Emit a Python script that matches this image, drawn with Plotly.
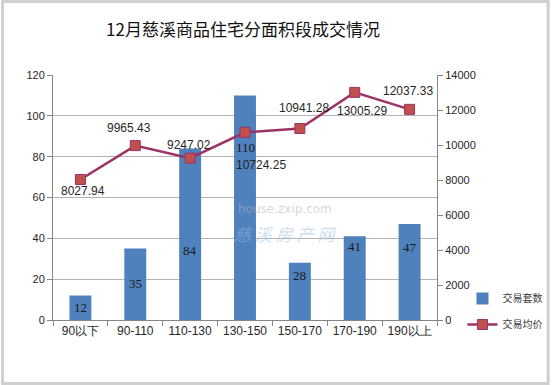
import plotly.graph_objects as go

categories = ["90以下", "90-110", "110-130", "130-150", "150-170", "170-190", "190以上"]
counts = [12, 35, 84, 110, 28, 41, 47]
prices = [8027.94, 9965.43, 9247.02, 10724.25, 10941.28, 13005.29, 12037.33]
left_ticks = [0, 20, 40, 60, 80, 100, 120]
right_ticks = [0, 2000, 4000, 6000, 8000, 10000, 12000, 14000]

# style: where each bar's label sits (data units) and line label offsets (px)
bar_label_y = [5.9, 18.1, 33.8, 84.7, 21.6, 35.8, 35.3]
line_label_off = [(3, 11), (-6, -18), (-1, -13), (16, 33), (4, -21), (7, 19), (-2, -18)]

W, H = 560, 385
ml, mr, mt, mb = 53, 115, 75, 65
pw, ph = W - ml - mr, H - mt - mb

fig = go.Figure()
fig.add_trace(go.Bar(
    x=categories, y=counts, name="交易套数", legendgroup="a",
    marker=dict(color="#4f81bd", line=dict(color="#4f81bd", width=0)),
    width=0.4, yaxis="y",
))
fig.add_trace(go.Scatter(
    x=categories, y=prices, name="交易均价", mode="lines+markers", legendgroup="b",
    line=dict(color="#9b3366", width=2.5),
    marker=dict(symbol="square", size=10, color="#c0504d",
                line=dict(color="#9b3366", width=1)),
    yaxis="y2",
))

annotations = []
for c, v, ly in zip(categories, counts, bar_label_y):
    annotations.append(dict(x=c, y=ly, xref="x", yref="y", text=str(v),
                            showarrow=False,
                            font=dict(family="Liberation Serif", size=13, color="#1a1a1a")))
for c, p, (dx, dy) in zip(categories, prices, line_label_off):
    annotations.append(dict(x=c, y=p, xref="x", yref="y2", text=f"{p:.2f}",
                            showarrow=True, arrowcolor="rgba(0,0,0,0)", ax=dx, ay=dy,
                            font=dict(family="Liberation Sans", size=12, color="#262626")))
# watermark
annotations.append(dict(x=(290 - ml) / pw, y=1 - (209 - mt) / ph, xref="paper", yref="paper",
                        text="house.zxip.com", showarrow=False,
                        font=dict(family="DejaVu Sans", size=12, color="rgba(180,180,180,0.55)")))
annotations.append(dict(x=(290 - ml) / pw, y=1 - (233 - mt) / ph, xref="paper", yref="paper",
                        text="<i>慈 溪 房 产 网</i>", showarrow=False,
                        font=dict(family="Noto Sans CJK SC", size=17, color="rgba(150,190,225,0.5)")))

def px_x(p):
    return (p - ml) / pw

def px_y(p):
    return 1 - (p - mt) / ph

shapes = [dict(type="rect", xref="paper", yref="paper",
               x0=px_x(1.5), x1=px_x(W - 1.5), y0=px_y(1.5), y1=px_y(H - 1.5),
               line=dict(color="#d0d0d0", width=3), layer="above")]

fig.update_layout(
    width=W, height=H,
    margin=dict(l=ml, r=mr, t=mt, b=mb),
    paper_bgcolor="white", plot_bgcolor="white",
    title=dict(text="12月慈溪商品住宅分面积段成交情况", x=243 / W, xanchor="center",
               y=1 - 30 / H, yanchor="middle",
               font=dict(family="Noto Sans CJK SC", size=17, color="#111111")),
    xaxis=dict(type="category", showline=True, linecolor="#868686", linewidth=1,
               ticks="outside", tickson="boundaries", ticklen=5, tickcolor="#868686",
               tickfont=dict(family="Liberation Sans", size=12, color="#262626"),
               showgrid=False, range=[-0.5, 6.5]),
    yaxis=dict(range=[0, 120], tickvals=left_ticks, showline=True, linecolor="#868686",
               ticks="outside", ticklen=5, tickcolor="#868686",
               showgrid=True, gridcolor="#b4b4b4", gridwidth=1, zeroline=False,
               tickfont=dict(family="Liberation Sans", size=11, color="#262626")),
    yaxis2=dict(range=[0, 14000], tickvals=right_ticks, ticktext=[str(t) for t in right_ticks],
                overlaying="y", side="right",
                showline=True, linecolor="#868686", ticks="outside", ticklen=5,
                tickcolor="#868686", showgrid=False, zeroline=False,
                tickfont=dict(family="Liberation Sans", size=11, color="#262626")),
    legend=dict(x=px_x(471), y=px_y(284), xanchor="left", yanchor="top",
                bgcolor="rgba(0,0,0,0)", tracegroupgap=7, itemwidth=30,
                traceorder="grouped",
                font=dict(family="Noto Sans CJK SC", size=10, color="#404040")),
    showlegend=True,
    annotations=annotations,
    shapes=shapes,
    bargap=0.6,
)

fig.write_html("out.html", config={"displayModeBar": False},
               post_script="document.body.style.margin='0';document.body.style.overflow='hidden';")
